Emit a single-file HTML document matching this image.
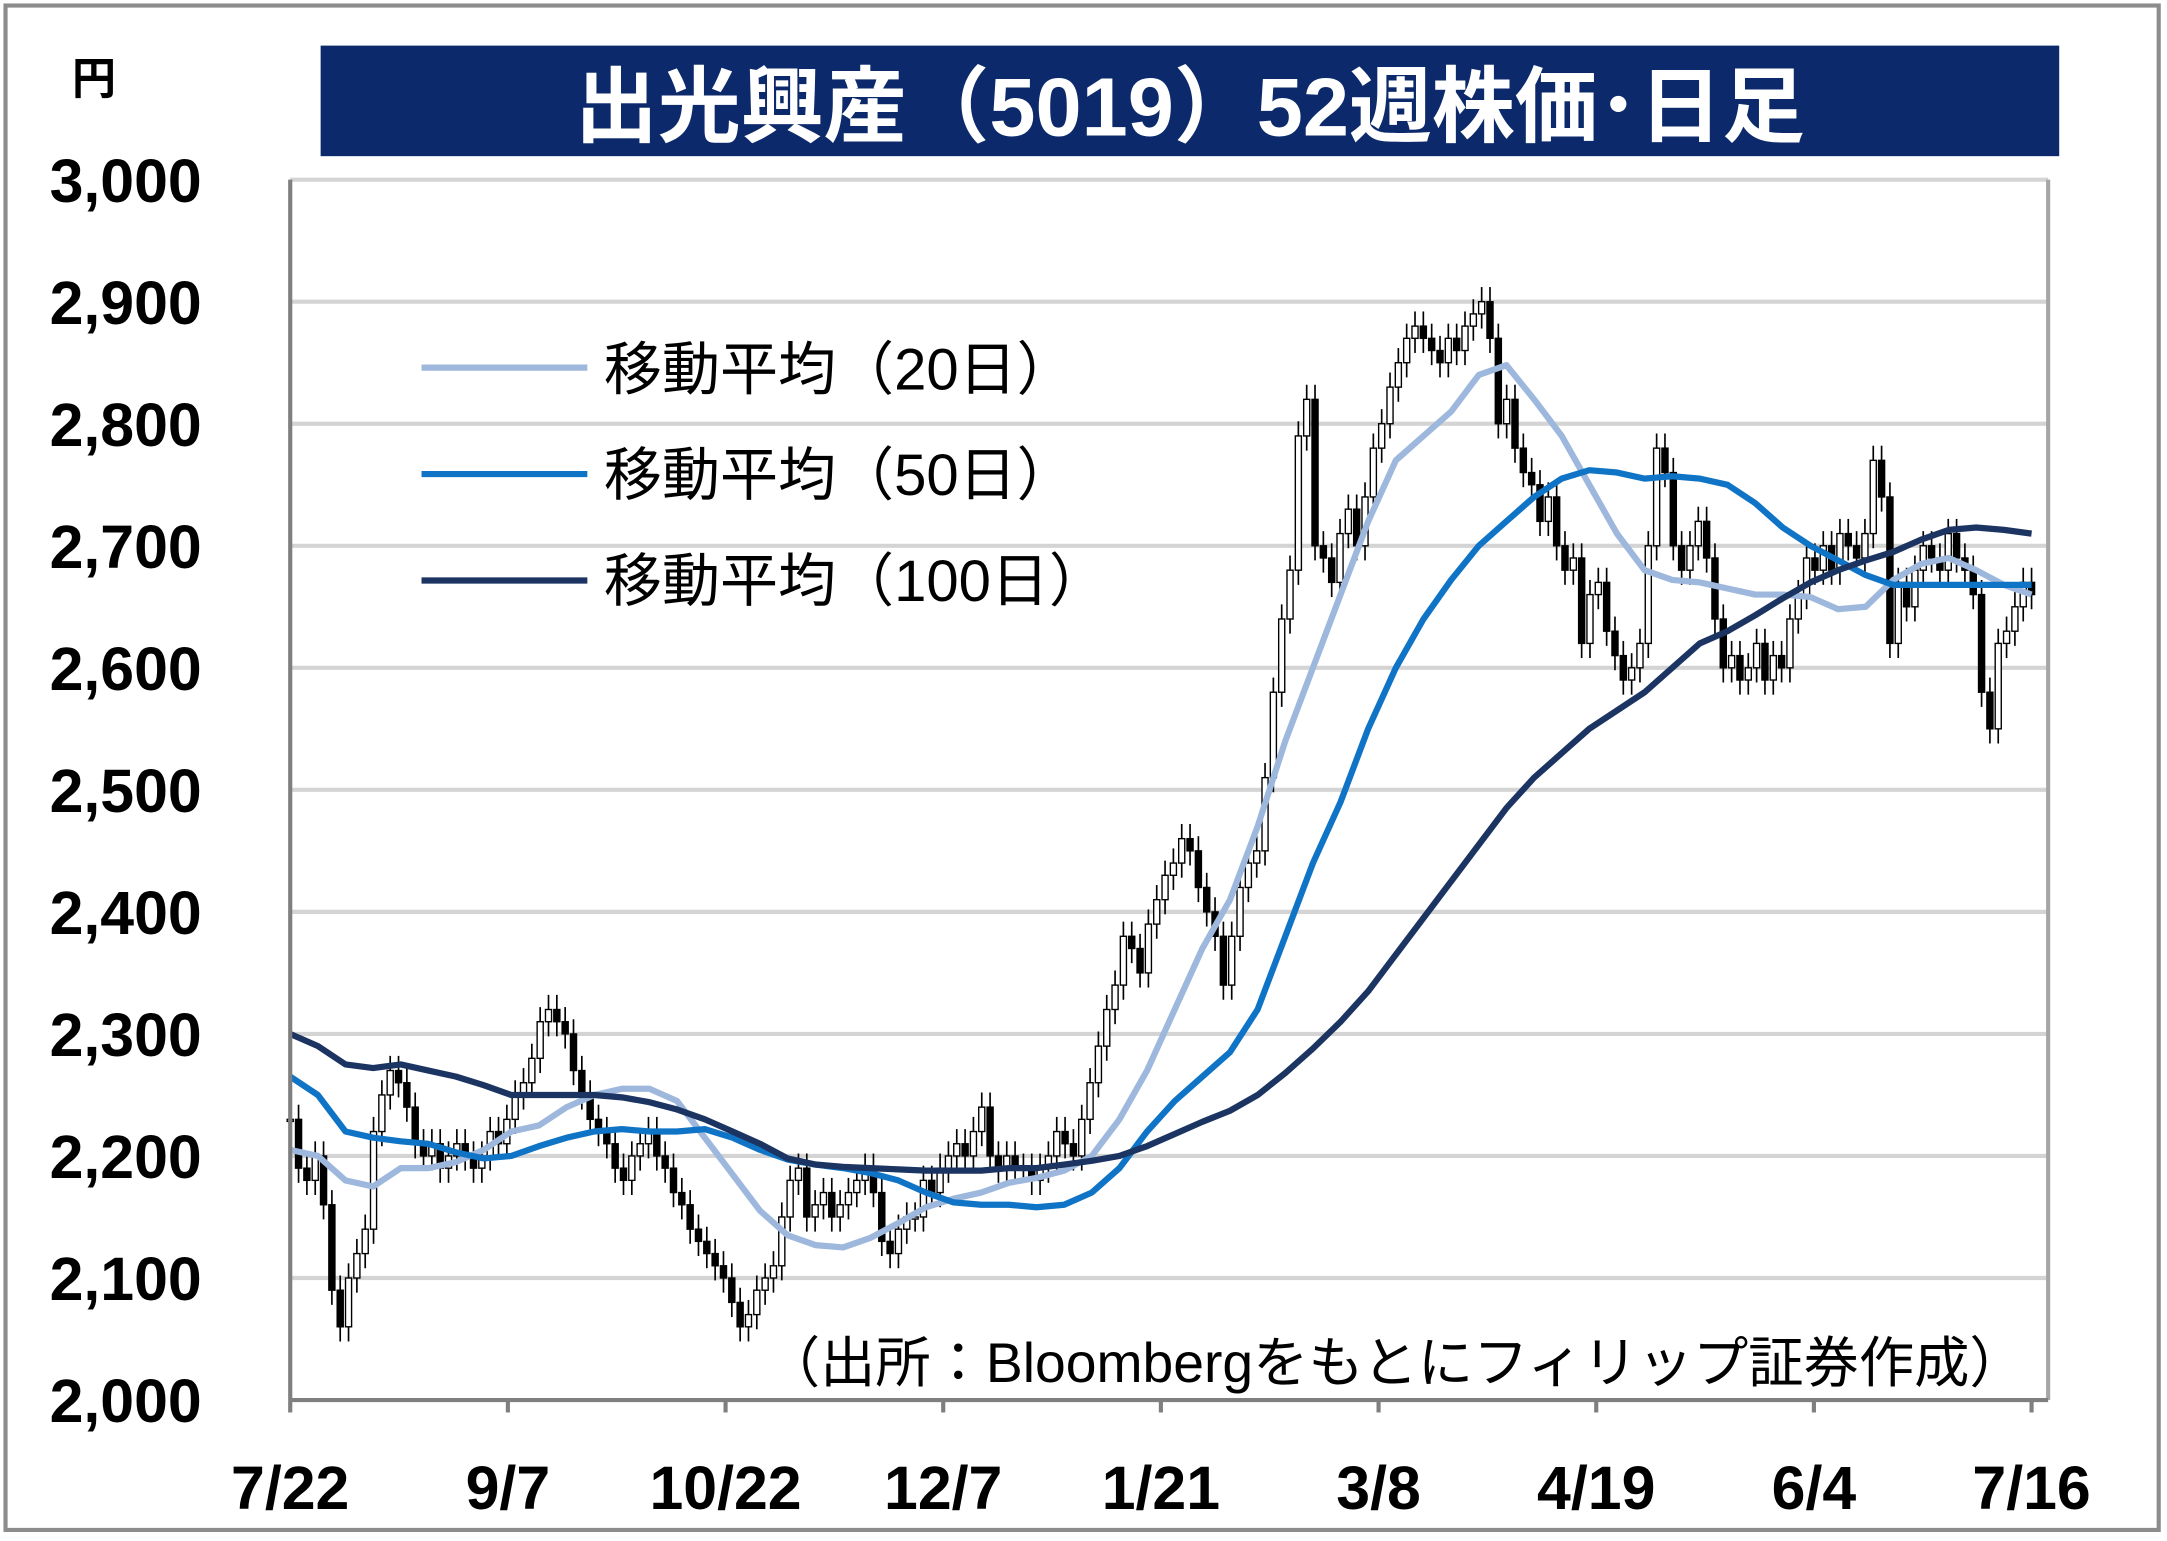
<!DOCTYPE html>
<html><head><meta charset="utf-8">
<style>html,body{margin:0;padding:0;background:#fff;}svg{display:block;}</style></head>
<body>
<svg id="chart" width="2167" height="1541" viewBox="0 0 1568 1115" preserveAspectRatio="none" xmlns="http://www.w3.org/2000/svg" font-family="'Liberation Sans','Noto Sans CJK JP',sans-serif">
<rect x="0" y="0" width="1568" height="1115" fill="#fff"/>
<rect x="4" y="4" width="1558" height="1103" fill="none" stroke="#8c8c8c" stroke-width="3"/>
<rect x="232" y="33" width="1258" height="80" fill="#0c2a6b"/>
<text x="861" y="98" text-anchor="middle" font-size="60" font-weight="bold" fill="#fff">出光興産（5019）52週株価･日足</text>
<text x="68" y="68" text-anchor="middle" font-size="32" font-weight="bold">円</text>
<g id="grid"></g>
<g id="candles"></g>
<g id="lines"></g>
<g id="axes"></g>
<g>
<line x1="305" y1="266" x2="425" y2="266" stroke="#9db8dc" stroke-width="4.5"/>
<text x="437" y="282" font-size="42">移動平均（20日）</text>
<line x1="305" y1="343" x2="425" y2="343" stroke="#0f74c6" stroke-width="4.5"/>
<text x="437" y="358" font-size="42">移動平均（50日）</text>
<line x1="305" y1="420" x2="425" y2="420" stroke="#1b3461" stroke-width="4.5"/>
<text x="437" y="435" font-size="42">移動平均（100日）</text>
</g>
<text x="1465" y="1000" text-anchor="end" font-size="40">（出所：Bloombergをもとにフィリップ証券作成）</text>
</svg>
<script>
const yTicks=[2000,2100,2200,2300,2400,2500,2600,2700,2800,2900,3000];
const yTickLabels=["2,000","2,100","2,200","2,300","2,400","2,500","2,600","2,700","2,800","2,900","3,000"];
const xTickLabels=["7/22","9/7","10/22","12/7","1/21","3/8","4/19","6/4","7/16"];
const closes=[2230,2190,2180,2200,2160,2090,2060,2100,2120,2140,
2220,2250,2270,2260,2240,2210,2200,2210,2190,2200,
2210,2200,2190,2200,2220,2210,2230,2250,2260,2280,
2310,2320,2310,2300,2270,2250,2230,2220,2210,2190,
2180,2200,2210,2220,2200,2190,2170,2160,2140,2130,
2120,2110,2100,2080,2060,2070,2090,2100,2110,2150,
2180,2190,2150,2160,2170,2150,2160,2170,2180,2190,
2170,2130,2120,2140,2150,2150,2180,2170,2190,2200,
2210,2200,2220,2240,2200,2190,2200,2190,2190,2180,
2190,2200,2220,2210,2200,2230,2260,2290,2320,2340,
2380,2370,2350,2390,2410,2430,2440,2460,2450,2420,
2400,2380,2340,2380,2420,2440,2450,2510,2580,2640,
2680,2790,2820,2700,2690,2670,2710,2730,2700,2740,
2780,2800,2830,2850,2870,2880,2870,2860,2850,2870,
2860,2880,2890,2900,2870,2800,2820,2780,2760,2750,
2720,2740,2700,2680,2690,2620,2660,2670,2630,2610,
2590,2600,2620,2700,2780,2760,2700,2680,2700,2720,
2690,2640,2600,2610,2590,2600,2620,2590,2610,2600,
2640,2660,2690,2680,2700,2680,2710,2700,2690,2710,
2770,2740,2620,2670,2650,2680,2700,2690,2680,2710,
2690,2680,2660,2580,2550,2620,2630,2650,2670,2660];
const ma20=[2205,2200,2180,2175,2190,2190,2195,2205,2220,2225,2240,2250,2255,2255,2245,2215,2185,2155,2135,2127,2125,2133,2145,2158,2165,2170,2178,2182,2188,2200,2230,2270,2320,2370,2410,2470,2540,2600,2660,2720,2770,2790,2810,2840,2848,2820,2790,2750,2710,2680,2672,2670,2665,2660,2660,2658,2648,2650,2672,2685,2690,2680,2668,2660];
const ma50=[2265,2250,2220,2215,2212,2210,2203,2198,2200,2208,2215,2220,2222,2220,2220,2222,2215,2205,2197,2193,2190,2186,2180,2170,2162,2160,2160,2158,2160,2170,2190,2220,2245,2265,2285,2320,2380,2440,2490,2550,2600,2640,2672,2700,2720,2740,2755,2762,2760,2755,2757,2755,2750,2735,2715,2700,2688,2676,2668,2668,2668,2668,2668,2668];
const ma100=[2300,2290,2275,2272,2275,2270,2265,2258,2250,2250,2250,2250,2248,2244,2238,2230,2220,2210,2198,2193,2191,2190,2189,2188,2188,2188,2190,2190,2193,2196,2200,2208,2218,2228,2237,2250,2268,2288,2310,2335,2365,2395,2425,2455,2485,2510,2530,2550,2565,2580,2600,2620,2630,2643,2657,2670,2680,2688,2695,2705,2713,2715,2713,2710];

const NS="http://www.w3.org/2000/svg";
const L=210,R=1470,T=130,B=1013;
const y=v=>B-(v-2000)/1000*(B-T);
const xi=(i,n)=>L+(R-L)*i/(n-1);
function mk(tag,attrs,parent){const e=document.createElementNS(NS,tag);for(const k in attrs)e.setAttribute(k,attrs[k]);parent.appendChild(e);return e;}
const grid=document.getElementById('grid'),axes=document.getElementById('axes'),cg=document.getElementById('candles'),lg=document.getElementById('lines');
yTicks.forEach((v,i)=>{
  if(v>2000){const g=mk('line',{x1:L,x2:1482,y1:y(v),y2:y(v),stroke:'#d4d4d4','stroke-width':3},grid);
  
  }
  const t=mk('text',{x:146,y:y(v)+16,'text-anchor':'end','font-size':44,'font-weight':'bold'},axes);
  t.textContent=yTickLabels[i];
  
  
});
const rb=mk('line',{x1:1482,x2:1482,y1:T,y2:B,stroke:'#a6a6a6','stroke-width':3},axes);


const ya=mk('line',{x1:L,x2:L,y1:T,y2:B,stroke:'#7f7f7f','stroke-width':3},axes);


const xa=mk('line',{x1:L,x2:1482,y1:B,y2:B,stroke:'#7f7f7f','stroke-width':3},axes);


xTickLabels.forEach((s,i)=>{
  const x=xi(i,xTickLabels.length);
  const tk=mk('line',{x1:x,x2:x,y1:B,y2:B+9,stroke:'#7f7f7f','stroke-width':3},axes);
  
  
  const t=mk('text',{x:x,y:1092,'text-anchor':'middle','font-size':44,'font-weight':'bold'},axes);
  t.textContent=s;
  
  
});
const n=closes.length;
closes.forEach((c,i)=>{
  const o=i>0?closes[i-1]:c;
  const x=xi(i,n);
  const hi=Math.max(o,c)+12,lo=Math.min(o,c)-12;
  const w=mk('line',{x1:x,x2:x,y1:y(hi),y2:y(lo),stroke:'#000','stroke-width':1.2},cg);
  
  
  const top=y(Math.max(o,c)),h=Math.max(1.5,Math.abs(y(o)-y(c)));
  const b=mk('rect',{x:x-2.2,y:top,width:4.4,height:h,fill:c>=o?'#fff':'#000',stroke:'#000','stroke-width':1},cg);
  
  
});
[[ma20,'#9db8dc','ma20-line'],[ma50,'#0f74c6','ma50-line'],[ma100,'#1b3461','ma100-line']].forEach(([arr,col,name])=>{
  const pts=arr.map((v,i)=>xi(i,arr.length).toFixed(1)+','+y(v).toFixed(1)).join(' ');
  const p=mk('polyline',{points:pts,fill:'none',stroke:col,'stroke-width':4.5,'stroke-linejoin':'round'},lg);
  
  
});
</script>
</body></html>
